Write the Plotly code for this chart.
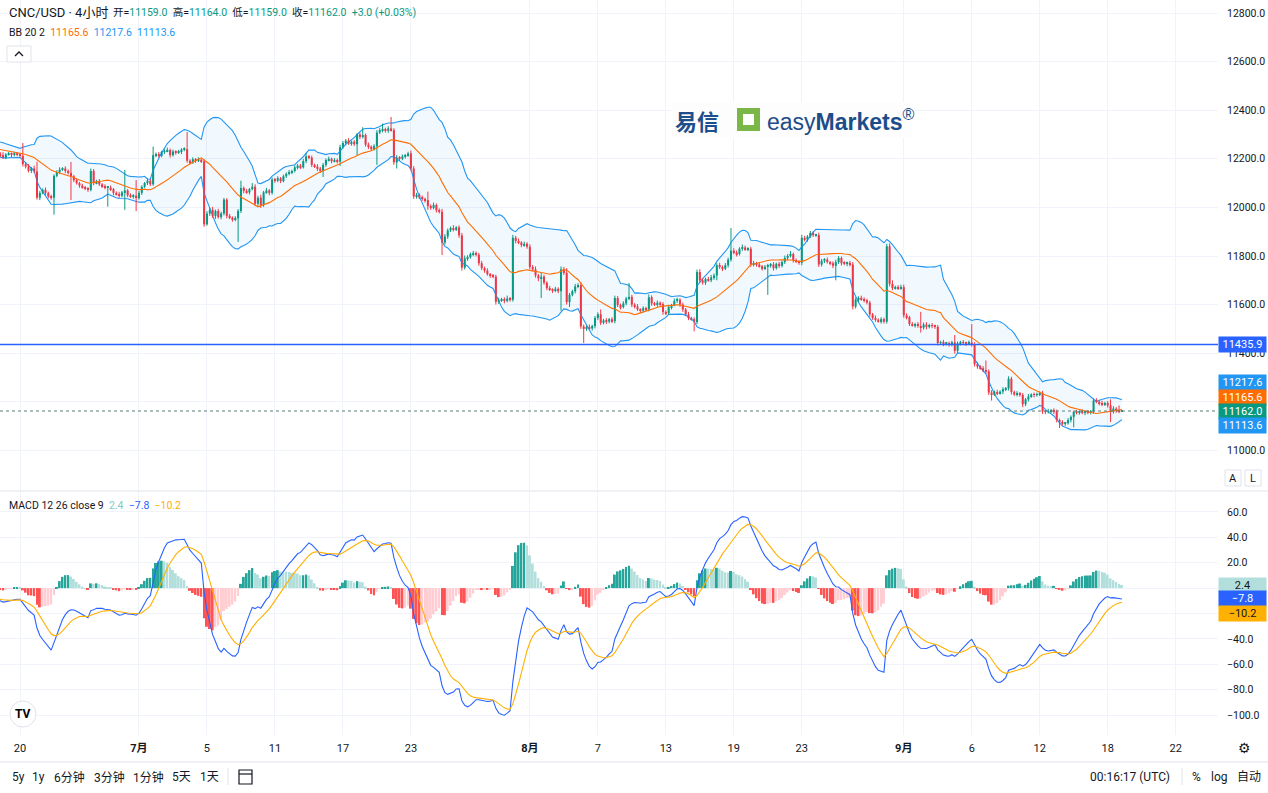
import numpy as np
import pandas as pd
import plotly.graph_objects as go

# ---------------- data (4-hour bars, x = bar index; bar 0 = 20 Jun 00:00) ----------------
FIRST_BAR = -57
CLOSE = [
    # warm-up bars before the visible window
    12300, 12310, 12305, 12318, 12312, 12320, 12315, 12308, 12312, 12300,
    12295, 12305, 12290, 12280, 12285, 12270, 12262, 12250, 12240, 12228,
    12215, 12205, 12198, 12210, 12222, 12230, 12245, 12240, 12255, 12262,
    12258, 12270, 12265, 12255, 12260, 12250, 12245, 12252, 12240, 12235,
    12242, 12230, 12238, 12225, 12232, 12228, 12220, 12226, 12218, 12222,
    # bars -7..-1
    12215, 12205, 12218, 12220, 12216, 12222, 12218,
    12212, 12178, 12168, 12150, 12160, 12148,
    12040, 12060, 12072, 12060, 12045, 12040,
    12130, 12145, 12155, 12160, 12150, 12142,
    12128, 12112, 12100, 12090, 12082, 12078,
    12072, 12150, 12100, 12108, 12095, 12088,
    12080, 12082, 12075, 12060, 12055, 12048,
    12062, 12070, 12050, 12045, 12048, 12038,
    12060, 12085, 12100, 12110, 12095, 12215,
    12220, 12212, 12228, 12232, 12236, 12215,
    12230, 12225, 12228, 12238, 12240, 12192,
    12185, 12198, 12192, 12196, 12190, 11930,
    11975, 11990, 11965, 11985, 11960, 11975,
    12032, 11965, 11958, 11950, 11955, 11985,
    12080, 12068, 12062, 12075, 12085, 12015,
    12040, 12010, 12062, 12070, 12060, 12115,
    12110, 12120, 12108, 12128, 12138, 12145,
    12150, 12165, 12172, 12165, 12190, 12210,
    12205, 12175, 12168, 12160, 12150, 12175,
    12195, 12200, 12190, 12195, 12188, 12248,
    12265, 12275, 12262, 12270, 12260, 12300,
    12290, 12298, 12258, 12250, 12240, 12252,
    12308, 12318, 12322, 12315, 12325, 12318,
    12185, 12205, 12200, 12210, 12215, 12222,
    12160, 12045, 12052, 12040, 12035, 12030,
    12005, 11998, 12010, 11988, 11982, 11855,
    11880, 11905, 11915, 11910, 11918, 11885,
    11752, 11790, 11795, 11808, 11812, 11805,
    11770, 11750, 11740, 11725, 11718, 11715,
    11612, 11618, 11622, 11615, 11625, 11620,
    11875, 11862, 11855, 11845, 11850, 11838,
    11755, 11745, 11720, 11708, 11715, 11690,
    11668, 11662, 11658, 11665, 11655, 11745,
    11730, 11610, 11640, 11655, 11675, 11680,
    11510, 11500, 11508, 11502, 11512, 11545,
    11560, 11525, 11535, 11530, 11540, 11532,
    11627, 11598, 11590, 11605, 11625, 11632,
    11600, 11592, 11580, 11575, 11585, 11580,
    11630, 11605, 11600, 11608, 11602, 11570,
    11565, 11590, 11598, 11615, 11620, 11600,
    11580, 11560, 11545, 11540, 11528, 11734,
    11700, 11690, 11705, 11700, 11712, 11720,
    11762, 11755, 11748, 11762, 11785, 11822,
    11815, 11808, 11830, 11835, 11828, 11830,
    11765, 11770, 11765, 11758, 11750, 11755,
    11760, 11765, 11750, 11768, 11760, 11775,
    11792, 11800, 11808, 11782, 11778, 11772,
    11875, 11868, 11880, 11895, 11886, 11886,
    11765, 11780, 11785, 11775, 11770, 11760,
    11775, 11792, 11770, 11768, 11772, 11765,
    11592, 11620, 11628, 11622, 11618, 11608,
    11560, 11545, 11538, 11532, 11540, 11530,
    11840, 11685, 11668, 11672, 11668, 11672,
    11556, 11548, 11520, 11515, 11520, 11512,
    11505, 11518, 11508, 11515, 11512, 11508,
    11442, 11445, 11438, 11440, 11435, 11445,
    11410, 11440, 11445, 11442, 11440, 11444,
    11435, 11355, 11345, 11338, 11330, 11325,
    11238, 11232, 11240, 11236, 11242, 11252,
    11255, 11295, 11240, 11230, 11235, 11228,
    11190, 11210, 11222, 11230, 11228, 11232,
    11235, 11160, 11158, 11162, 11165, 11160,
    11125, 11115, 11110, 11112, 11125, 11138,
    11158, 11156, 11160, 11155, 11158, 11156,
    11160, 11205, 11200, 11195, 11190, 11195,
    11185, 11160, 11172, 11165, 11159, 11162,
]
UPPER_WICK = [
    8, 6, 10, 5, 7, 4, 9, 6, 5, 8,
    6, 7, 5, 9, 6, 8, 5, 7, 6, 9,
    7, 5, 8, 6, 10, 5, 7, 9, 6, 5,
    8, 6, 7, 10, 5, 6, 9, 5, 7, 6,
    8, 5, 6, 9, 7, 5, 6, 8, 5, 7,
    6, 12, 5, 8, 6, 7, 5,
    6, 53, 8, 10, 6, 12,
    40, 8, 6, 10, 5, 7,
    6, 8, 10, 5, 9, 6,
    45, 6, 8, 5, 7, 6,
    5, 10, 8, 6, 9, 5,
    7, 6, 8, 5, 6, 9,
    6, 84, 5, 8, 6, 65,
    8, 6, 5, 9, 7, 35,
    6, 8, 5, 7, 10, 6,
    8, 5, 9, 6, 7, 70,
    6, 8, 5, 10, 6, 8,
    10, 8, 12, 6, 9, 7,
    7, 6, 8, 5, 9, 8,
    30, 6, 8, 5, 15, 10,
    8, 12, 6, 10, 5, 8,
    6, 8, 5, 7, 6, 9,
    5, 8, 6, 7, 9, 14,
    6, 8, 5, 10, 7, 8,
    6, 9, 5, 8, 6, 10,
    8, 6, 10, 5, 7, 6,
    8, 32, 6, 9, 5, 8,
    10, 8, 23, 6, 9, 47,
    8, 10, 6, 8, 5, 7,
    12, 10, 8, 6, 9, 5,
    35, 8, 10, 6, 8, 12,
    10, 8, 6, 12, 5, 8,
    10, 12, 8, 6, 9, 7,
    8, 10, 6, 9, 5, 8,
    8, 10, 6, 8, 12, 6,
    12, 8, 10, 6, 9, 7,
    10, 8, 12, 6, 15, 8,
    6, 9, 5, 8, 6, 12,
    10, 20, 8, 6, 10, 8,
    12, 8, 6, 10, 5, 8,
    8, 20, 6, 9, 5, 8,
    10, 8, 6, 9, 7, 57,
    8, 6, 10, 5, 8, 6,
    12, 8, 6, 9, 5, 8,
    6, 9, 5, 10, 8, 6,
    8, 6, 10, 5, 8, 10,
    12, 8, 6, 9, 10, 8,
    8, 10, 6, 9, 8, 93,
    10, 8, 6, 12, 8, 6,
    8, 10, 6, 9, 5, 8,
    8, 6, 10, 5, 8, 6,
    10, 8, 12, 6, 8, 5,
    12, 8, 6, 8, 6, 5,
    10, 8, 6, 9, 5, 8,
    10, 8, 6, 9, 5, 8,
    10, 8, 6, 9, 8, 6,
    8, 6, 10, 5, 8, 6,
    10, 12, 15, 6, 8, 10,
    10, 8, 6, 9, 5, 8,
    58, 8, 10, 6, 9, 5,
    8, 6, 10, 5, 8, 6,
    30, 8, 6, 9, 5, 8,
    76, 10, 8, 6, 9, 40,
    8, 10, 6, 9, 5, 8,
    6, 10, 8, 6, 9, 5,
    8, 6, 10, 5, 8, 6,
    8, 10, 6, 9, 5, 8,
    8, 6, 9, 5, 8, 6,
    6, 8, 5, 9, 6, 8,
    6, 8, 10, 6, 9, 5,
    8, 25, 10, 6, 20, 2,
]
LOWER_WICK = [
    6, 8, 5, 7, 9, 6, 5, 8, 7, 6,
    9, 5, 7, 6, 8, 5, 9, 7, 6, 8,
    5, 7, 9, 6, 5, 8, 7, 6, 9, 5,
    7, 8, 6, 5, 9, 7, 6, 8, 5, 7,
    6, 9, 5, 7, 8, 6, 5, 7, 9, 6,
    8, 6, 7, 5, 9, 6, 8,
    7, 10, 8, 6, 9, 7,
    8, 10, 6, 9, 7, 8,
    70, 6, 8, 5, 9, 7,
    98, 8, 6, 9, 5, 7,
    8, 6, 9, 5, 7, 8,
    6, 77, 8, 10, 6, 9,
    7, 72, 8, 6, 9, 53,
    6, 9, 5, 8, 7, 6,
    9, 7, 6, 8, 5, 10,
    6, 8, 5, 9, 7, 8,
    8, 6, 9, 5, 7, 10,
    5, 10, 8, 12, 6, 9,
    8, 10, 6, 9, 7, 97,
    8, 10, 6, 9, 5, 10,
    9, 12, 8, 6, 10, 7,
    9, 6, 8, 5, 7, 6,
    8, 6, 9, 7, 5, 8,
    7, 9, 6, 10, 8, 25,
    8, 6, 9, 5, 7, 18,
    6, 9, 5, 8, 7, 45,
    9, 6, 8, 10, 7, 6,
    77, 6, 9, 7, 8, 6,
    10, 25, 8, 6, 9, 7,
    8, 10, 9, 6, 8, 10,
    15, 8, 6, 9, 7, 51,
    8, 10, 6, 9, 7, 10,
    12, 8, 10, 6, 9, 7,
    10, 8, 9, 6, 8, 7,
    12, 9, 7, 10, 6, 8,
    8, 10, 6, 9, 7, 8,
    10, 8, 9, 12, 81, 8,
    9, 6, 10, 7, 8, 80,
    8, 10, 20, 6, 9, 8,
    10, 58, 8, 6, 9, 10,
    8, 9, 6, 10, 7, 8,
    9, 8, 10, 6, 8, 7,
    10, 8, 6, 9, 7, 8,
    8, 10, 6, 9, 7, 12,
    8, 6, 10, 5, 8, 9,
    10, 8, 9, 6, 38, 8,
    10, 8, 9, 6, 8, 10,
    20, 8, 10, 6, 9, 8,
    8, 10, 6, 9, 7, 8,
    10, 8, 9, 6, 10, 7,
    115, 8, 10, 6, 9, 7,
    8, 10, 6, 9, 7, 8,
    10, 8, 9, 6, 8, 7,
    10, 8, 9, 6, 8, 10,
    60, 8, 9, 6, 10, 8,
    12, 8, 10, 6, 9, 7,
    10, 8, 9, 6, 10, 8,
    8, 10, 9, 6, 8, 7,
    10, 9, 8, 6, 10, 7,
    20, 8, 10, 6, 9, 8,
    10, 8, 9, 6, 8, 7,
    12, 9, 8, 6, 10, 7,
    8, 10, 9, 6, 8, 10,
    10, 27, 8, 9, 6, 10,
    8, 9, 10, 6, 8, 7,
    12, 8, 9, 6, 10, 7,
    8, 10, 9, 6, 8, 10,
    10, 23, 8, 9, 6, 10,
    43, 8, 9, 6, 10, 7,
    8, 9, 6, 10, 8, 7,
    9, 43, 8, 10, 6, 0,
]

TICK_BARS = [0, 42, 66, 90, 114, 138, 180, 204, 228, 252, 276, 312, 336, 360, 384, 408]
TICK_TEXT = ["20", "<b>7月</b>", "5", "11", "17", "23", "<b>8月</b>", "7", "13", "19",
             "23", "<b>9月</b>", "6", "12", "18", "22"]
PRICE_TICKS = [12800, 12600, 12400, 12200, 12000, 11800, 11600, 11400, 11200, 11000]
PRICE_TICKS_COVERED = [11200]          # hidden behind the price tags
MACD_TICKS = [60, 40, 20, 0, -20, -40, -60, -80, -100]
MACD_TICKS_COVERED = [0, -20]

ALERT_LEVEL = 11435.9
LAST_PRICE = 11162.0
SYMBOL = "CNC/USD · 4小时"
LEGEND_OHLC = [("开", "11159.0"), ("高", "11164.0"), ("低", "11159.0"), ("收", "11162.0")]
LEGEND_CHANGE = "+3.0 (+0.03%)"
BB_VALUES = ["11165.6", "11217.6", "11113.6"]          # basis, upper, lower
MACD_VALUES = ["2.4", "−7.8", "−10.2"]                  # hist, macd, signal

assert len(CLOSE) == len(UPPER_WICK) == len(LOWER_WICK), (len(CLOSE), len(UPPER_WICK), len(LOWER_WICK))

# ---------------- styling ----------------
W, H = 1268, 793
PLOT_W, PLOT_H = 1218, 735
FONT = "Roboto, 'Noto Sans CJK SC', sans-serif"
TXT = "#131722"
UP, DOWN = "#089981", "#f23645"
GRID = "#f0f3fa"
BLUE_LINE = "#2962ff"
BB_BAND = "#2196f3"
BB_BASIS = "#ff6d00"
SIGNAL_C = "#ffb000"


def px(x):
    return x / PLOT_W


def py(y):
    return 1 - y / PLOT_H


# ---------------- derived series ----------------
n = len(CLOSE)
xb = np.arange(FIRST_BAR, FIRST_BAR + n)
c = np.array(CLOSE, float)
o = np.r_[c[0], c[:-1]]
hi = np.maximum(o, c) + np.array(UPPER_WICK)
lo = np.minimum(o, c) - np.array(LOWER_WICK)
up_mask = c >= o

s = pd.Series(c)
basis = s.rolling(20).mean()
sd = s.rolling(20).std(ddof=0)
upper = basis + 2 * sd
lower = basis - 2 * sd

ema12 = s.ewm(span=12, adjust=False).mean()
ema26 = s.ewm(span=26, adjust=False).mean()
macd = ema12 - ema26
signal = macd.ewm(span=9, adjust=False).mean()
hist = (macd - signal).values
hcol = []
for i in range(n):
    prev = hist[i - 1] if i > 0 else 0.0
    if hist[i] >= 0:
        hcol.append("#26a69a" if hist[i] > prev else "#b2dfdb")
    else:
        hcol.append("#ff5252" if hist[i] < prev else "#ffcdd2")

fig = go.Figure()

# Bollinger fill + bands
v = slice(19, n)
fig.add_trace(go.Scatter(x=xb[v], y=upper.values[v], mode="lines",
                         line=dict(color=BB_BAND, width=1.1), hoverinfo="skip"))
fig.add_trace(go.Scatter(x=xb[v], y=lower.values[v], mode="lines", fill="tonexty",
                         fillcolor="rgba(33,150,243,0.06)",
                         line=dict(color=BB_BAND, width=1.1), hoverinfo="skip"))

# candles: wicks
for mask, col in ((up_mask, UP), (~up_mask, DOWN)):
    wx, wy = [], []
    for k, a, b in zip(xb[mask], lo[mask], hi[mask]):
        wx += [k, k, None]
        wy += [a, b, None]
    fig.add_trace(go.Scatter(x=wx, y=wy, mode="lines", line=dict(color=col, width=1),
                             hoverinfo="skip"))
# candles: bodies
body_base = np.minimum(o, c)
body_h = np.maximum(np.abs(c - o), 4)
fig.add_trace(go.Bar(x=xb, y=body_h, base=body_base, width=0.72,
                     marker=dict(color=[UP if u else DOWN for u in up_mask], line=dict(width=0)),
                     hoverinfo="skip"))

fig.add_trace(go.Scatter(x=xb[v], y=basis.values[v], mode="lines",
                         line=dict(color=BB_BASIS, width=1.1), hoverinfo="skip"))

# MACD pane
fig.add_trace(go.Bar(x=xb, y=hist, width=0.7, yaxis="y2",
                     marker=dict(color=hcol, line=dict(width=0)), hoverinfo="skip"))
fig.add_trace(go.Scatter(x=xb, y=macd.values, mode="lines", yaxis="y2",
                         line=dict(color=BLUE_LINE, width=1.1), hoverinfo="skip"))
fig.add_trace(go.Scatter(x=xb, y=signal.values, mode="lines", yaxis="y2",
                         line=dict(color=SIGNAL_C, width=1.1), hoverinfo="skip"))

# ---------------- layout ----------------
x_lo = -7.06
x_hi = x_lo + PLOT_W / 2.8326
price_text = ["" if t in PRICE_TICKS_COVERED else f"{t:.1f}" for t in PRICE_TICKS]
macd_text = ["" if t in MACD_TICKS_COVERED else f"{t:.1f}".replace("-", "−") for t in MACD_TICKS]
fig.update_layout(
    width=W, height=H, margin=dict(l=0, r=W - PLOT_W, t=0, b=H - PLOT_H),
    paper_bgcolor="white", plot_bgcolor="white", showlegend=False,
    barmode="overlay", hovermode=False,
    font=dict(family=FONT, size=11, color=TXT),
    xaxis=dict(range=[x_lo, x_hi], tickvals=TICK_BARS, ticktext=TICK_TEXT,
               showgrid=True, gridcolor=GRID, gridwidth=1, zeroline=False, showline=False,
               ticks="", anchor="y2", tickfont=dict(size=11, color=TXT), fixedrange=True,
               ticklabelstandoff=5),
    yaxis=dict(domain=[1 - 490 / PLOT_H, 1], range=[10837, 12853.5], side="right",
               tickvals=PRICE_TICKS, ticktext=price_text, showgrid=True, gridcolor=GRID,
               zeroline=False, showline=False, ticks="", anchor="x",
               tickfont=dict(size=10.5, color=TXT), ticklabelstandoff=8),
    yaxis2=dict(domain=[0, 1 - 492 / PLOT_H], range=[-115.7, 75.7], side="right",
                tickvals=MACD_TICKS, ticktext=macd_text, showgrid=True, gridcolor=GRID,
                zeroline=False, showline=False, ticks="", anchor="x",
                tickfont=dict(size=10.5, color=TXT), ticklabelstandoff=8),
)

shapes = []
# alert line and last-price dotted line
shapes.append(dict(type="line", xref="paper", yref="y", x0=0, x1=1, y0=ALERT_LEVEL, y1=ALERT_LEVEL,
                   line=dict(color=BLUE_LINE, width=1.5)))
shapes.append(dict(type="line", xref="paper", yref="y", x0=0, x1=1, y0=LAST_PRICE, y1=LAST_PRICE,
                   line=dict(color="#5f7d78", width=1, dash="dot")))
# pane separator & toolbar border
shapes.append(dict(type="line", xref="paper", yref="paper", x0=0, x1=W / PLOT_W, y0=py(491), y1=py(491),
                   line=dict(color="#e0e3eb", width=1)))
shapes.append(dict(type="line", xref="paper", yref="paper", x0=0, x1=W / PLOT_W, y0=py(762), y1=py(762),
                   line=dict(color="#e0e3eb", width=1)))
# toolbar separators
for sx in (228, 1182):
    shapes.append(dict(type="line", xref="paper", yref="paper", x0=px(sx), x1=px(sx), y0=py(768), y1=py(785),
                       line=dict(color="#e0e3eb", width=1)))
# collapse button
shapes.append(dict(type="rect", xref="paper", yref="paper", x0=px(7), x1=px(31), y0=py(46), y1=py(62),
                   line=dict(color="#e0e3eb", width=1), fillcolor="white"))
shapes.append(dict(type="path", xref="paper", yref="paper",
                   path=f"M {px(15)},{py(56)} L {px(19)},{py(52)} L {px(23)},{py(56)}",
                   line=dict(color=TXT, width=1.3)))
# A / L buttons
for bx in (1225, 1245):
    shapes.append(dict(type="rect", xref="paper", yref="paper", x0=px(bx), x1=px(bx + 16),
                       y0=py(470), y1=py(486), line=dict(color="#e0e3eb", width=1), fillcolor="white"))
# calendar icon
shapes.append(dict(type="rect", xref="paper", yref="paper", x0=px(239), x1=px(252), y0=py(770), y1=py(784),
                   line=dict(color=TXT, width=1.2), fillcolor="rgba(0,0,0,0)"))
shapes.append(dict(type="line", xref="paper", yref="paper", x0=px(239), x1=px(252), y0=py(774), y1=py(774),
                   line=dict(color=TXT, width=1.2)))
# logo box
shapes.append(dict(type="rect", xref="paper", yref="paper", x0=px(673), x1=px(912), y0=py(102), y1=py(138),
                   line=dict(width=0), fillcolor="#fdfdfd"))
shapes.append(dict(type="rect", xref="paper", yref="paper", x0=px(737), x1=px(760), y0=py(108), y1=py(131),
                   line=dict(width=0), fillcolor="#7ab648"))
shapes.append(dict(type="rect", xref="paper", yref="paper", x0=px(743), x1=px(754), y0=py(114), y1=py(125),
                   line=dict(width=0), fillcolor="white"))
# TradingView badge
shapes.append(dict(type="circle", xref="paper", yref="paper", x0=px(10), x1=px(36), y0=py(701), y1=py(727),
                   line=dict(color="#e0e3eb", width=1), fillcolor="white"))
fig.update_layout(shapes=shapes)

ann = []


def text(x, y, t, size=11, color=TXT, xanchor="left", family=FONT, **kw):
    ann.append(dict(x=px(x), y=py(y), xref="paper", yref="paper", text=t, showarrow=False,
                    xanchor=xanchor, yanchor="middle", font=dict(size=size, color=color, family=family), **kw))


def tag(y, t, bg, fg="white"):
    ann.append(dict(x=1.0, y=py(y), xref="paper", yref="paper", text=t, showarrow=False,
                    xanchor="left", yanchor="middle", bgcolor=bg, width=45, height=13, borderpad=1,
                    align="center", font=dict(size=11, color=fg, family=FONT)))


NB = "\u00a0"
GAP = NB + " "
text(7, 13, SYMBOL, size=13)
ohlc = GAP.join(f"{k}=<span style='color:{UP}'>{val}</span>" for k, val in LEGEND_OHLC)
text(111, 13, ohlc + GAP + f"<span style='color:{UP}'>{LEGEND_CHANGE}</span>", size=10.5)
text(7, 33, "BB 20 2" + GAP + f"<span style='color:{BB_BASIS}'>{BB_VALUES[0]}</span>" + GAP
     + f"<span style='color:{BB_BAND}'>{BB_VALUES[1]}</span>" + GAP
     + f"<span style='color:{BB_BAND}'>{BB_VALUES[2]}</span>", size=10.5)
text(7, 505, "MACD 12 26 close 9" + GAP + f"<span style='color:#80cbc4'>{MACD_VALUES[0]}</span>"
     + GAP + f"<span style='color:{BLUE_LINE}'>{MACD_VALUES[1]}</span>" + GAP
     + f"<span style='color:{SIGNAL_C}'>{MACD_VALUES[2]}</span>", size=10.5)

# right-hand price tags
tag(344, f"{ALERT_LEVEL:.1f}", BLUE_LINE)
tag(383, BB_VALUES[1], BB_BAND)
tag(397, BB_VALUES[0], BB_BASIS)
tag(411, f"{LAST_PRICE:.1f}", UP)
tag(425, BB_VALUES[2], BB_BAND)
tag(585, MACD_VALUES[0], "#b2dfdb", TXT)
tag(598, MACD_VALUES[1], BLUE_LINE)
tag(613, MACD_VALUES[2], SIGNAL_C, TXT)

# A / L
text(1233, 478, "A", size=11, xanchor="center")
text(1253, 478, "L", size=11, xanchor="center")

# logo
text(697, 120, "<b>易信</b>", size=22, color="#1f4e8c", xanchor="center", family="'Noto Sans CJK SC'")
text(765, 120, "easy<b>Markets</b><sup>®</sup>", size=23, color="#1c4c8a", family="'Liberation Sans', Arial")
# TradingView badge
text(23, 714, "<b>TV</b>", size=12, color="#000000", xanchor="center")
# gear
text(1244, 748, "⚙", size=14, color=TXT, xanchor="center", family="DejaVu Sans")

# bottom toolbar
for lx, t in ((18, "5y"), (38, "1y"), (69, "6分钟"), (109, "3分钟"), (148, "1分钟"), (181, "5天"), (209, "1天")):
    text(lx, 777, t, size=12, xanchor="center")
text(1130, 777, "00:16:17 (UTC)", size=12, xanchor="center")
text(1196, 777, "%", size=12, xanchor="center")
text(1219, 777, "log", size=12, xanchor="center")
text(1249, 777, "自动", size=12, xanchor="center")

fig.update_layout(annotations=ann)
fig.write_html("out.html", config={"displayModeBar": False},
               post_script="document.body.style.margin='0';document.body.style.overflow='hidden';")
